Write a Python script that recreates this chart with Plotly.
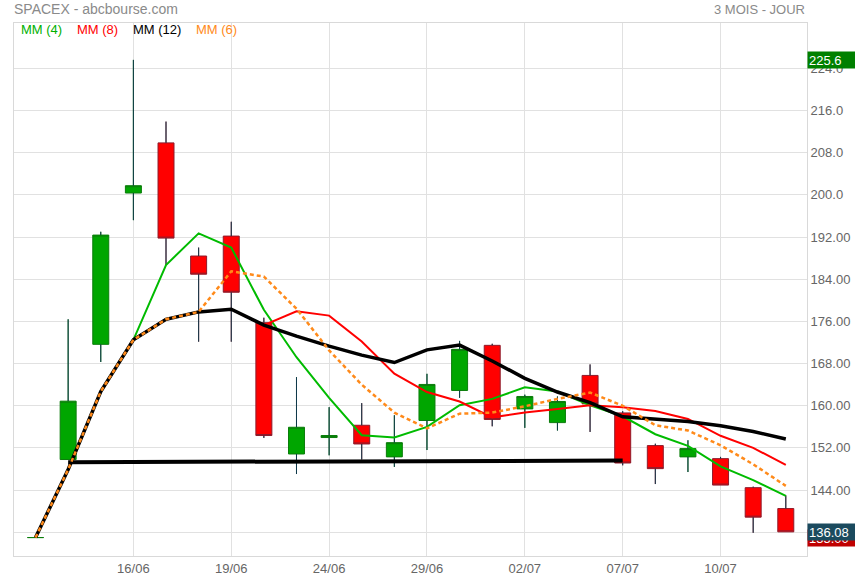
import plotly.graph_objects as go

# ---------------- data ----------------
dates = ["11/06", "12/06", "13/06", "16/06", "17/06", "18/06", "19/06", "20/06",
         "23/06", "24/06", "25/06", "26/06", "29/06", "30/06", "01/07", "02/07",
         "03/07", "04/07", "07/07", "08/07", "09/07", "10/07", "11/07", "14/07"]

opens = [135.0, 149.8, 171.65, 200.35, 209.86, 188.4, 192.18, 175.75, 150.85, 153.97,
         156.3, 150.3, 157.2, 162.9, 171.46, 159.4, 156.8, 165.75, 158.64, 152.44,
         150.3, 149.97, 144.46, 140.5]
highs = [135.0, 176.4, 193.0, 225.6, 213.9, 190.0, 194.9, 176.7, 165.43, 159.73,
         160.5, 158.2, 166.06, 172.3, 171.76, 162.1, 161.76, 167.84, 158.97, 152.8,
         153.45, 150.3, 144.65, 143.0]
lows = [135.0, 149.8, 168.3, 195.2, 186.7, 172.15, 172.15, 153.9, 147.05, 150.6,
        149.8, 148.4, 151.6, 161.5, 156.1, 155.8, 155.3, 155.03, 148.7, 145.15,
        147.43, 144.95, 135.9, 136.08]
closes = [135.0, 160.87, 192.37, 201.74, 191.8, 184.95, 181.53, 154.35, 155.92, 154.35,
          152.75, 153.0, 164.04, 170.7, 157.4, 161.76, 160.81, 160.35, 149.14, 148.07,
          151.87, 144.95, 138.87, 136.08]

mm4 = [135.0, 147.9, 162.7, 172.5, 186.7, 192.7, 190.0, 178.2, 169.2, 161.5, 154.4, 154.0,
       156.0, 160.1, 161.3, 163.5, 162.7, 160.1, 158.0, 154.6, 152.4, 148.5, 145.9, 142.9]
mm8 = [135.0, 147.9, 162.7, 172.5, 176.4, 177.8, 178.3, 175.3, 177.9, 177.1, 172.2, 166.1,
       162.6, 160.8, 157.8, 158.7, 159.4, 160.1, 159.7, 159.0, 157.5, 154.3, 152.0, 148.8]
mm12 = [135.0, 147.9, 162.7, 172.5, 176.4, 177.8, 178.3, 175.3, 173.2, 171.3, 169.6, 168.2,
        170.6, 171.5, 168.5, 165.2, 162.6, 160.6, 157.9, 157.4, 157.0, 156.2, 155.1, 153.7]
mm6 = [135.0, 147.9, 162.7, 172.5, 176.4, 177.8, 185.5, 184.5, 178.4, 170.5, 164.0, 158.7,
       155.7, 158.5, 158.7, 159.9, 161.3, 162.5, 160.0, 156.3, 155.3, 152.5, 148.9, 144.8]

# horizontal support line drawn on the chart
support_x = ["12/06", "07/07"]
support_y = [149.3, 149.6]

tick_dates = ["16/06", "19/06", "24/06", "29/06", "02/07", "07/07", "10/07"]
price_ticks = [136, 144, 152, 160, 168, 176, 184, 192, 200, 208, 216, 224]
price_labels = ["136.00", "144.00", "152.00", "160.00", "168.00", "176.00", "184.00",
                "192.00", "200.0", "208.0", "216.0", "224.0"]

max_price = 225.6
min_price = 135.0
last_price = 136.08

# ---------------- figure ----------------
FONT = "Liberation Sans, Arial, sans-serif"
WICK = "#10394b"

fig = go.Figure()

fig.add_trace(go.Candlestick(
    x=dates, open=opens, high=highs, low=lows, close=closes,
    increasing=dict(line=dict(color="#0b7d0b", width=1), fillcolor="#00a600"),
    decreasing=dict(line=dict(color="#8e1b2b", width=1), fillcolor="#ff0000"),
    whiskerwidth=0, showlegend=False, hoverinfo="skip"))

# navy wicks, drawn outside the bodies
wick_x, wick_y = [], []
for d, op, hi, lo, cl in zip(dates, opens, highs, lows, closes):
    top, bot = max(op, cl), min(op, cl)
    wick_x += [d, d, d, d, d, d]
    wick_y += [top, hi, None, lo, bot, None]
fig.add_trace(go.Scatter(x=wick_x, y=wick_y, mode="lines",
                         line=dict(color=WICK, width=1), showlegend=False,
                         hoverinfo="skip", connectgaps=False))

fig.add_trace(go.Scatter(x=dates, y=mm4, mode="lines",
                         line=dict(color="#00bb00", width=2), showlegend=False))
fig.add_trace(go.Scatter(x=dates, y=mm8, mode="lines",
                         line=dict(color="#ff0000", width=2), showlegend=False))
fig.add_trace(go.Scatter(x=dates, y=mm12, mode="lines",
                         line=dict(color="#000000", width=3.5), showlegend=False))
fig.add_trace(go.Scatter(x=support_x, y=support_y, mode="lines",
                         line=dict(color="#000000", width=4), showlegend=False))
fig.add_trace(go.Scatter(x=dates, y=mm6, mode="lines",
                         line=dict(color="#ff8a1a", width=2.5, dash="4px,3px"),
                         showlegend=False))

annotations = [
    dict(text="SPACEX - abcbourse.com", xref="paper", yref="paper", x=0, y=1,
         xanchor="left", yanchor="middle", xshift=-2, yshift=14, showarrow=False,
         font=dict(family=FONT, size=14, color="#8a8a8a")),
    dict(text="3 MOIS - JOUR", xref="paper", yref="paper", x=1, y=1,
         xanchor="right", yanchor="middle", xshift=0, yshift=14, showarrow=False,
         font=dict(family=FONT, size=13, color="#8a8a8a")),
]

legend_items = [("MM (4)", "#00b000", 5), ("MM (8)", "#ff0000", 61),
                ("MM (12)", "#000000", 117), ("MM (6)", "#ff8a1a", 180)]
for txt, col, dx in legend_items:
    annotations.append(dict(text=txt, xref="paper", yref="paper", x=0, y=1,
                            xanchor="left", yanchor="middle", xshift=dx, yshift=-6,
                            showarrow=False, font=dict(family=FONT, size=13, color=col)))

value_tags = [(max_price, "225.6", "#008000"), (min_price, "135.00", "#c00000"),
              (last_price, "136.08", "#1b4a5e")]
for val, txt, bg in value_tags:
    annotations.append(dict(text=txt, xref="paper", yref="y", x=1, y=val,
                            xanchor="left", yanchor="middle", xshift=0,
                            showarrow=False, bgcolor=bg, width=47, height=14,
                            borderpad=1, align="left",
                            font=dict(family=FONT, size=13, color="#ffffff")))

fig.update_layout(
    width=855, height=580,
    margin=dict(l=14, r=48, t=23, b=24, autoexpand=False),
    paper_bgcolor="white", plot_bgcolor="white",
    showlegend=False,
    boxgap=0.3,
    annotations=annotations,
    font=dict(family=FONT, size=13, color="#666666"),
    xaxis=dict(type="category", range=[-0.66, 23.65], rangeslider=dict(visible=False),
               tickmode="array", tickvals=tick_dates, ticktext=tick_dates,
               showgrid=True, gridcolor="#e1e1e1", gridwidth=1, automargin=False,
               showline=True, mirror=True, linecolor="#d9d9d9", linewidth=1,
               ticks="", tickfont=dict(family=FONT, size=13, color="#666666"),
               fixedrange=True),
    yaxis=dict(side="right", range=[131.5, 232.6], tickmode="array",
               tickvals=price_ticks, ticktext=price_labels, automargin=False,
               showgrid=True, gridcolor="#e1e1e1", gridwidth=1, zeroline=False,
               showline=True, mirror=True, linecolor="#d9d9d9", linewidth=1,
               ticks="", tickfont=dict(family=FONT, size=13, color="#666666"),
               fixedrange=True),
)

# the page body has a default 8px margin; drop it so the figure sits at 0,0
fig.write_html("out.html", config={"displayModeBar": False},
               post_script="document.body.style.margin='0';")
